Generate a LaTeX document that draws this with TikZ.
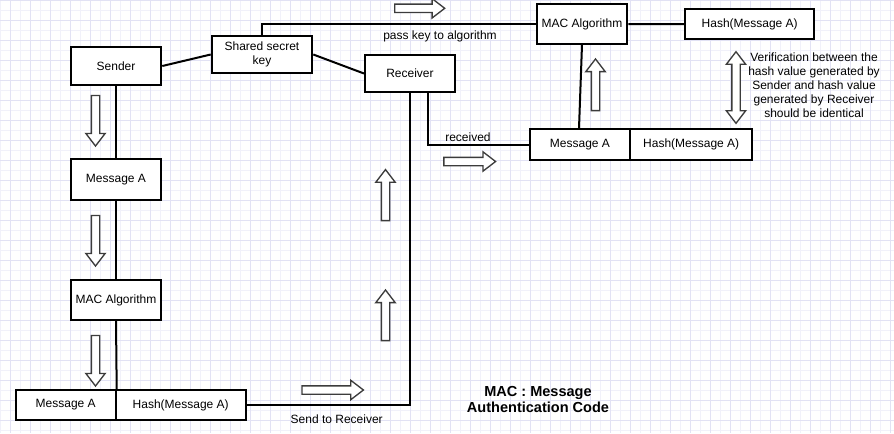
\documentclass[tikz,border=0pt]{standalone}
\usepackage{fontspec}
\setmainfont{Liberation Sans}
\usetikzlibrary{shapes.arrows}
\newcommand{\pxu}{0.75pt}
\definecolor{gridmajor}{RGB}{226,226,244}
\definecolor{gridminor}{RGB}{241,241,250}
\definecolor{arrowgray}{RGB}{60,60,60}
\begin{document}
\begin{tikzpicture}[x=0.75pt,y=-0.75pt,
  box/.style={draw=black, line width=1.5pt, fill=white, inner sep=0pt,
    font=\fontsize{9}{10.5}\selectfont, align=center},
  wh/.style 2 args={minimum width=#1*\pxu, minimum height=#2*\pxu},
  conn/.style={line width=1.5pt, black},
  lbl/.style={font=\fontsize{9}{10.5}\selectfont, inner sep=0pt, align=center},
  hollowarrow/.style={single arrow, draw=arrowgray, fill=white, line width=1pt,
    inner xsep=0pt, inner ysep=3.5*\pxu, minimum width=0pt,
    single arrow head extend=5.5*\pxu, single arrow tip angle=75},
  hollowdouble/.style={double arrow, draw=arrowgray, fill=white, line width=1pt,
    inner xsep=0pt, inner ysep=3.5*\pxu, minimum width=0pt,
    double arrow head extend=5.5*\pxu, double arrow tip angle=75},
  len/.style={minimum height=#1*\pxu}
]
\useasboundingbox (0,0) rectangle (894,433);
\fill[white] (0,0) rectangle (894,433);
% grid
\foreach \x in {0,10,...,890} \draw[gridminor, line width=0.75pt] (\x,0) -- (\x,433);
\foreach \y in {0,10,...,430} \draw[gridminor, line width=0.75pt] (0,\y) -- (894,\y);
\foreach \x in {10,30,...,890} \draw[gridmajor, line width=0.75pt] (\x,0) -- (\x,433);
\foreach \y in {0,20,...,420} \draw[gridmajor, line width=0.75pt] (0,\y) -- (894,\y);

% boxes
\node[box, wh={90.6}{38}] (snd) at (116,66) {Sender};
\node[box, wh={100.6}{37.6}] (key) at (262,54.5) {Shared secret\\key};
\node[box, wh={90}{37.3}] (recv) at (410,73.5) {Receiver};
\node[box, wh={90.6}{40}] (macR) at (582,24) {MAC Algorithm};
\node[box, wh={129.3}{30.3}] (hashT) at (749.7,24.2) {Hash(Message A)};
\node[box, wh={90.6}{40.7}] (msgL) at (116,179.7) {Message A};
\node[box, wh={90.6}{40}] (macL) at (116,300) {MAC Algorithm};
\node[box, wh={100}{30}] (bmsg) at (65.7,405) {Message A};
\node[box, wh={130}{30}] (bhash) at (180.7,405) {Hash(Message A)};
\node[box, wh={100}{30.7}] (rmsg) at (580,144.7) {Message A};
\node[box, wh={122.3}{30.7}] (rhash) at (691.2,144.7) {Hash(Message A)};

% connectors
\draw[conn] (snd.east) -- (key.west);
\draw[conn] (key.east) -- (recv.west);
\draw[conn] (key.north) |- (macR.west);
\draw[conn] (macR.east) -- (hashT.west);
\draw[conn] (macR.south) -- ([xshift=-1*\pxu]rmsg.north);
\draw[conn] (snd.south) -- (msgL.north);
\draw[conn] (msgL.south) -- (macL.north);
\draw[conn] (macL.south) -- (bmsg.north east);
\draw[conn] (bhash.east) -| (recv.south);
\draw[conn] ([xshift=18*\pxu]recv.south) |- (rmsg.west);

% labels
\node[lbl] (pass) at (440,36) {pass key to algorithm};
\node[lbl] (recvd) at (468,137) {received};
\node[lbl] (send) at (336.7,419.5) {Send to Receiver};
\node[lbl] (verif) at (814,85) {Verification between the\\hash value generated by\\Sender and hash value\\generated by Receiver\\should be identical};
\node[inner sep=0pt, align=center, font=\bfseries\fontsize{10.9}{11.7}\selectfont] (title) at (538,399.5) {MAC : Message\\Authentication Code};

% hollow arrows
\node[hollowarrow, rotate=-90, len=50.6] (d1) at (95.5,118) {};
\node[hollowarrow, rotate=-90, len=50.6] (d2) at (95.5,238) {};
\node[hollowarrow, rotate=-90, len=50.6] (d3) at (95.5,358) {};
\node[hollowarrow, len=50] (r1) at (417,8.3) {};
\node[hollowarrow, len=51.7] (r2) at (467,161.5) {};
\node[hollowarrow, len=61.4] (r3) at (330,390) {};
\node[hollowarrow, rotate=90, len=51] (u1) at (385.5,197.8) {};
\node[hollowarrow, rotate=90, len=50.6] (u2) at (385.5,318) {};
\node[hollowarrow, rotate=90, len=51.6] (u3) at (595.5,87.5) {};
\node[hollowdouble, rotate=90, len=71.6] (v1) at (736,87.5) {};
\end{tikzpicture}
\end{document}
